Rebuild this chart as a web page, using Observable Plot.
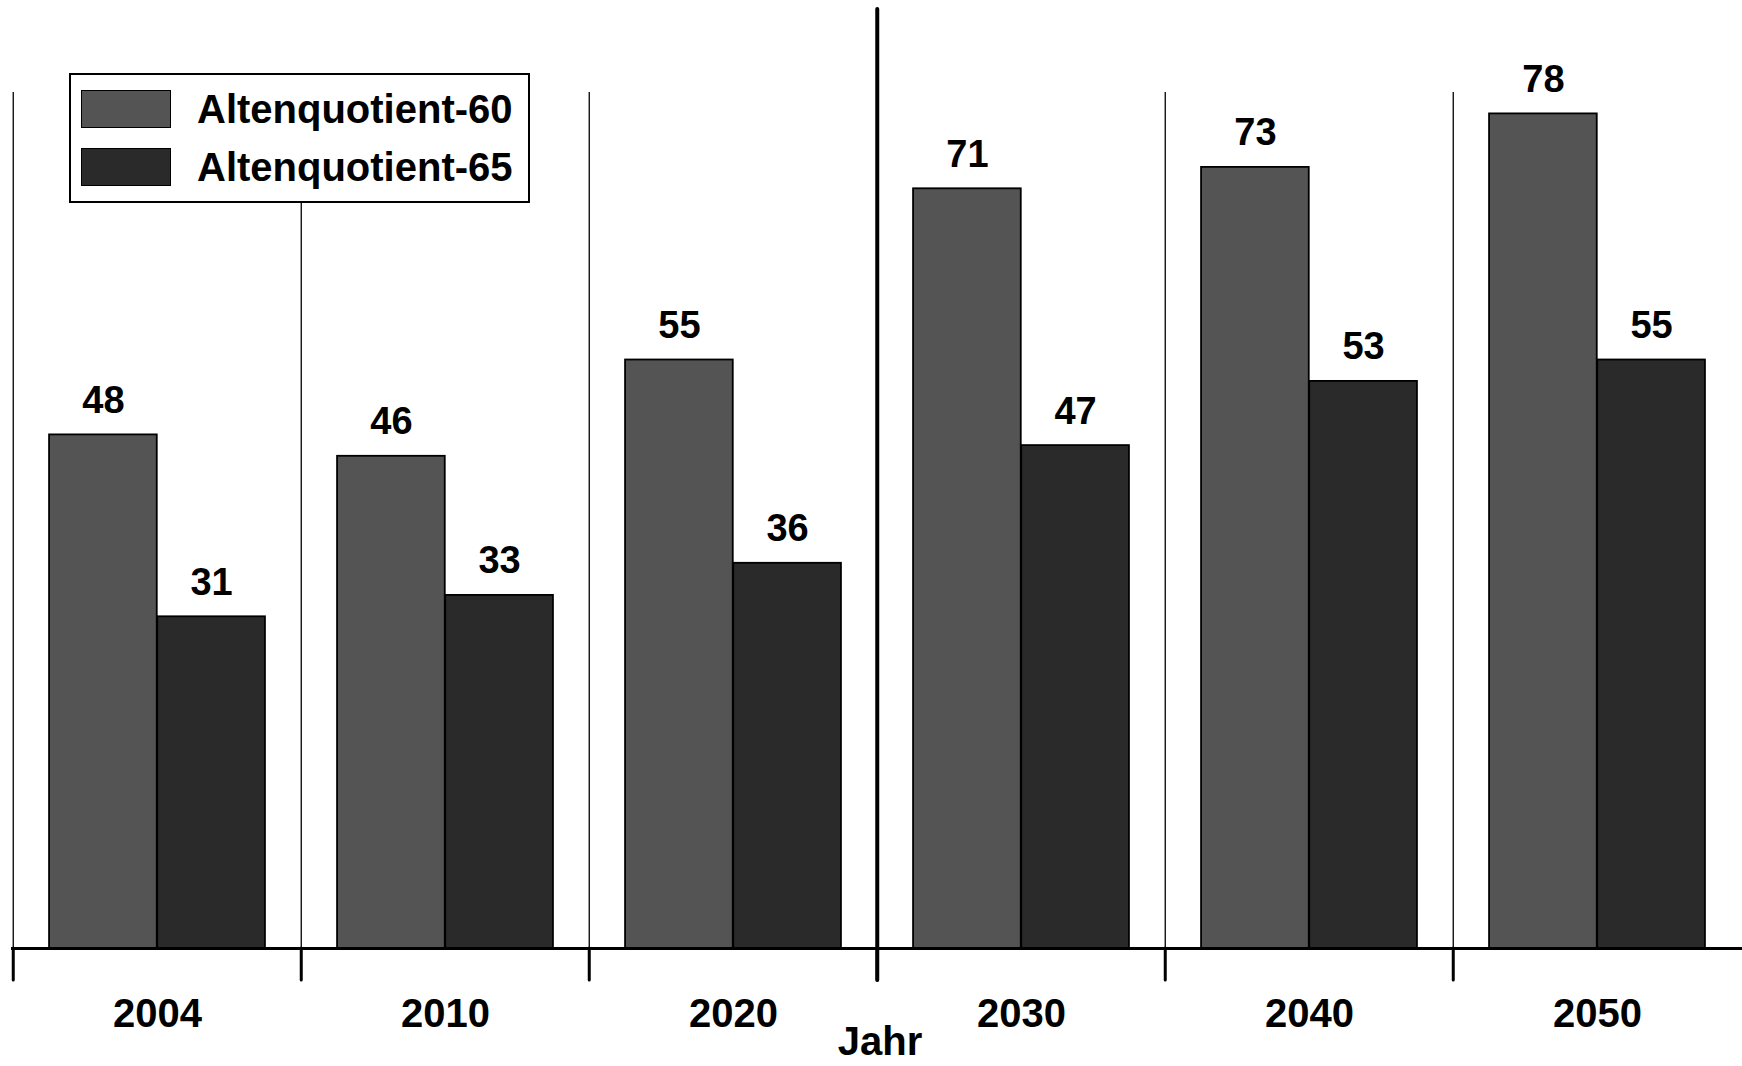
<!DOCTYPE html>
<html>
<head>
<meta charset="utf-8">
<script src="https://cdn.jsdelivr.net/npm/d3@7"></script>
<script src="https://cdn.jsdelivr.net/npm/@observablehq/plot@0.6"></script>
<style>
  html, body { margin: 0; padding: 0; background: #fff; }
  #wrap { position: relative; width: 1742px; height: 1066px; overflow: hidden; }
  #legend {
    position: absolute; left: 69px; top: 73px; width: 457px; height: 126px;
    border: 2px solid #000; background: #fff; box-sizing: content-box;
    font-family: "Liberation Sans", Arial, sans-serif; font-weight: bold; font-size: 40px;
  }
  .item { position: absolute; left: 10px; height: 40px; display: flex; align-items: center; }
  .sw { width: 90px; height: 38px; border: 1.5px solid #000; box-sizing: border-box; }
  .lab { position: absolute; left: 116px; white-space: nowrap; line-height: 40px; }
</style>
</head>
<body>
<div id="wrap"><div id="legend"></div></div>
<script>
// ---- data ----
const years = ["2004", "2010", "2020", "2030", "2040", "2050"];
const series = ["Altenquotient-60", "Altenquotient-65"];
const aq60 = [48, 46, 55, 71, 73, 78];
const aq65 = [31, 33, 36, 47, 53, 55];
const colors = ["#545454", "#2a2a2a"];
const axisLabel = "Jahr";
const dividerYear = "2030";

const data = [];
years.forEach((y, i) => {
  data.push({year: y, series: series[0], value: aq60[i]});
  data.push({year: y, series: series[1], value: aq65[i]});
});

// ---- layout ----
const W = 1742, H = 1066, mL = 11, mR = 0, mT = 92, mB = 118;
const bw = (W - mL - mR) / years.length;
const frameH = H - mT - mB;
const font = '"Liberation Sans", Arial, sans-serif';

const chart = Plot.plot({
  width: W, height: H,
  marginLeft: mL, marginRight: mR, marginTop: mT, marginBottom: mB,
  style: {fontFamily: font, background: "#fff", overflow: "visible"},
  x: {type: "band", domain: years, padding: 0, axis: null},
  y: {domain: [0, 80], axis: null},
  marks: [
    // thin separators
    Plot.ruleX(years, {x: d => d, dx: -bw / 2, stroke: "#000", strokeWidth: 1.3}),
    // ticks below the baseline
    Plot.ruleX(years, {x: d => d, dx: -bw / 2, insetTop: frameH, insetBottom: -32, stroke: "#000", strokeWidth: 3, strokeLinecap: "round"}),
    // thick divider
    Plot.ruleX([dividerYear], {x: d => d, dx: -bw / 2, insetTop: -83, insetBottom: -32, stroke: "#000", strokeWidth: 4, strokeLinecap: "round"}),
    // bars
    Plot.barY(data.filter(d => d.series === series[0]), {
      x: "year", y: "value", fill: colors[0], stroke: "#000", strokeWidth: 1.8,
      insetLeft: 0.125 * bw, insetRight: 0.5 * bw
    }),
    Plot.barY(data.filter(d => d.series === series[1]), {
      x: "year", y: "value", fill: colors[1], stroke: "#000", strokeWidth: 1.8,
      insetLeft: 0.5 * bw, insetRight: 0.125 * bw
    }),
    // value labels
    Plot.text(data.filter(d => d.series === series[0]), {
      x: "year", y: "value", text: d => String(d.value), dx: -0.1875 * bw, dy: -22,
      lineAnchor: "bottom", fontSize: 38, fontWeight: "bold", fill: "#000"
    }),
    Plot.text(data.filter(d => d.series === series[1]), {
      x: "year", y: "value", text: d => String(d.value), dx: 0.1875 * bw, dy: -22,
      lineAnchor: "bottom", fontSize: 38, fontWeight: "bold", fill: "#000"
    }),
    // baseline
    Plot.ruleY([0], {stroke: "#000", strokeWidth: 3}),
    // year labels
    Plot.text(years, {x: d => d, frameAnchor: "bottom", lineAnchor: "middle", dy: 66, fontSize: 40, fontWeight: "bold", fill: "#000"}),
    // axis title
    Plot.text([axisLabel], {frameAnchor: "bottom", lineAnchor: "bottom", dy: 106, dx: 3, fontSize: 40, fontWeight: "bold", fill: "#000"})
  ]
});

const wrap = document.getElementById("wrap");
wrap.insertBefore(chart, wrap.firstChild);

// legend
const leg = document.getElementById("legend");
const tops = [14, 72];
series.forEach((s, i) => {
  const it = document.createElement("div");
  it.className = "item";
  it.style.top = tops[i] + "px";
  const sw = document.createElement("div");
  sw.className = "sw";
  sw.style.background = colors[i];
  const lab = document.createElement("div");
  lab.className = "lab";
  lab.textContent = s;
  it.appendChild(sw);
  it.appendChild(lab);
  leg.appendChild(it);
});
</script>
</body>
</html>
